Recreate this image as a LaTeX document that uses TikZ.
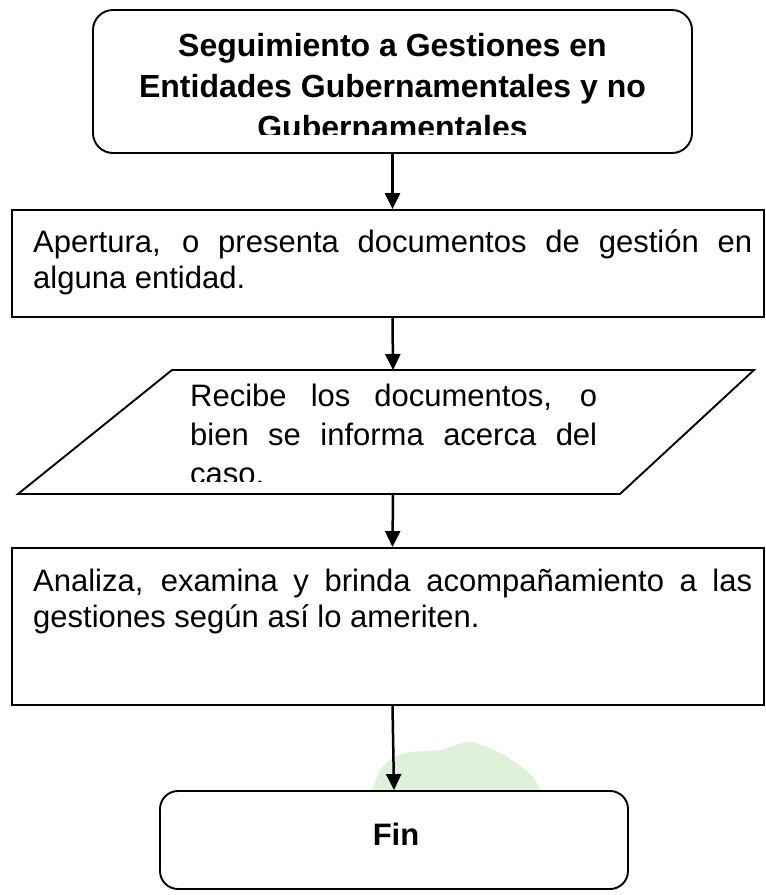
\documentclass[tikz,border=0pt]{standalone}
\usepackage{fontspec}
\setmainfont{Liberation Sans}
\usetikzlibrary{arrows.meta, calc, positioning, shapes.geometric}
\definecolor{blobgreen}{HTML}{DFF1D9}
\hyphenpenalty=10000
\exhyphenpenalty=10000

\tikzset{
  box/.style={draw, line width=1.9pt, fill=white, inner sep=0pt},
  roundbox/.style={box, rounded corners=20pt},
  body/.style={font=\fontsize{31}{36}\selectfont, align=justify, inner sep=0pt},
  headline/.style={font=\fontsize{32}{41}\selectfont\bfseries, align=center, inner sep=0pt},
  flow/.style={line width=2.5pt, -{Triangle[length=16pt,width=15pt]}}
}

\begin{document}
\begin{tikzpicture}[x=1pt, y=-1pt]
    \useasboundingbox (0,0) rectangle (766,895);

    % Background mark
    \fill[blobgreen] plot[smooth cycle] coordinates
        {(373,795) (383,766) (405,753) (440,750) (470,742) (502,754) (532,776) (535,795) (470,802) (400,802)};

    % Shapes
    \node[roundbox, minimum width=599pt, minimum height=143pt] (start) at (392.5,81.5) {};
    \node[box, minimum width=752pt, minimum height=107pt] (open) at (388,263.5) {};
    \draw[box] (172,370) -- (754,370) -- (620,494) -- (18,494) -- cycle;
    \coordinate (receive-top) at (393,370);
    \coordinate (receive-bottom) at (393,494);
    \node[box, minimum width=752pt, minimum height=157pt] (review) at (388,626.5) {};
    \node[roundbox, rounded corners=18pt, minimum width=468pt, minimum height=98pt] (fin) at (394,840) {};

    % Texts (clipped like the source)
    \begin{scope}
        \clip (start.north west) rectangle ($(start.east)+(0,52.5)$);
        \node[headline, anchor=north] (starttext) at (392.5,33)
            {Seguimiento a Gestiones en\\Entidades Gubernamentales y no\\Gubernamentales};
    \end{scope}
    \node[body, text width=719pt, anchor=north west] (opentext) at (33,229)
        {Apertura, o presenta documentos de gestión en alguna entidad.};
    \begin{scope}
        \clip (0,370) rectangle (766,481);
        \node[body, font=\fontsize{31}{39}\selectfont, text width=407pt, anchor=north west]
            (receivetext) at (190,384)
            {Recibe los documentos, o bien se informa acerca del caso.};
    \end{scope}
    \node[body, text width=719pt, anchor=north west] (reviewtext) at (33,569)
        {Analiza, examina y brinda acompañamiento a las gestiones según así lo ameriten.};
    \node[headline, font=\fontsize{31}{38}\selectfont\bfseries] (fintext) at (396,834) {Fin};

    % Connectors
    \draw[flow] (start.south) -- (start.south |- open.north);
    \draw[flow] (open.south -| start.south) -- (receive-top);
    \draw[flow] (receive-bottom) -- (start.south |- review.north);
    \draw[flow] (review.south -| start.south) -- (fin.north);
\end{tikzpicture}
\end{document}
